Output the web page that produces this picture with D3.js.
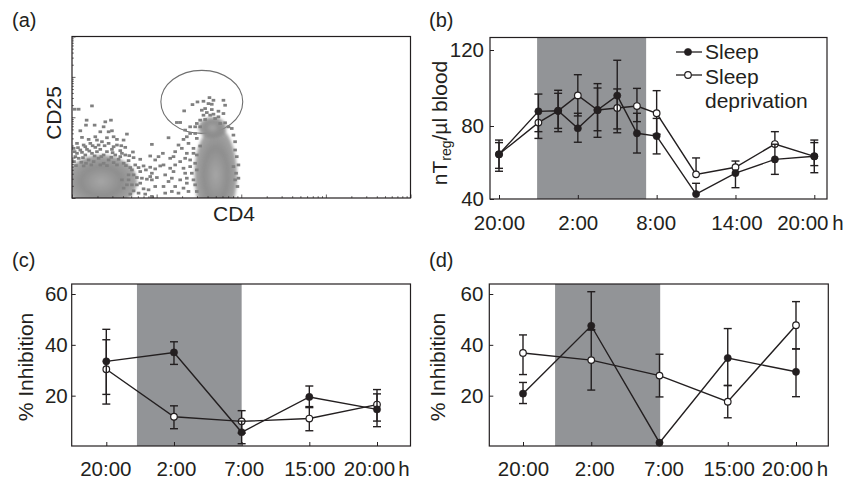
<!DOCTYPE html>
<html>
<head>
<meta charset="utf-8">
<script src="https://d3js.org/d3.v7.min.js"></script>
<style>
  body { margin: 0; background: #fff; }
  text { font-family: "Liberation Sans", Arial, sans-serif; fill: #231f20; }
</style>
</head>
<body>
<svg id="fig" width="845" height="482"></svg>
<script>
// panel (a): flow cytometry, CD4 / CD25 channels
const cloudLeft = [[8,268],[20,268],[60,278],[44,235],[42,220],[68,220],[100,230],[117,235],[95,215],[25,203],[110,200],[120,203],[85,200],[165,193],[70,185],[30,183],[50,177],[75,175],[105,182],[125,185],[135,177],[155,175],[15,165],[35,160],[55,165],[90,170],[110,165],[135,160],[160,153],[240,162],[25,145],[45,147],[70,153],[85,147],[120,147],[145,143],[183,139],[15,135],[40,130],[60,135],[95,130],[130,130],[160,130],[235,127],[260,125],[20,120],[50,115],[80,120],[110,115],[140,117],[170,113],[205,117],[250,115],[215,97],[190,100],[235,93],[265,97],[180,85],[205,80],[240,75],[225,57],[240,55],[185,70],[150,55],[165,40],[195,40],[215,28],[205,45],[230,25],[250,35],[240,5],
  [5,150],[18,152],[40,155],[62,158],[80,160],[98,158],[125,155],[148,158],[8,140],[30,138],[52,142],[75,140],[105,140],[122,137],[150,135],[172,128],[10,125],[33,122],[68,127],[88,125],[118,123],[145,125],[185,122],[6,110],[28,108],[42,105],[65,110],[95,105],[125,107],[155,105],[12,98],[35,97],[58,100],[85,100],[105,98],[135,100],[162,98],[175,92],[200,92],[222,85],[250,88],[170,70],[195,62],[210,60],[235,65],[255,62],[170,55],[180,40],[155,30],[185,22],[200,15],[175,12],[220,12]];
const cloudRight = [[413,303],[395,292],[377,290],[362,282],[337,263],[425,295],[420,283],[455,295],[460,280],[400,270],[390,265],[420,267],[455,255],[395,250],[415,250],[425,253],[385,235],[400,237],[375,225],[370,215],[325,228],[315,228],[440,245],[460,227],[480,210],[290,182],[335,177],[355,195],[320,160],[350,165],[365,150],[385,157],[273,135],[305,125],[295,120],[345,135],[365,135],[275,100],[295,90],[325,110],[355,115],[370,105],[280,70],[305,80],[340,75],[360,75],[290,50],[325,55],[345,45],[365,55],[310,35],[335,30],[275,35],[490,145],[495,125],[493,75],[497,35],[490,55],[485,95],
  [340,205],[355,215],[345,185],[370,195],[375,180],[330,150],[340,120],[310,140],[375,130],[355,95],[335,90],[310,100],[375,85],[345,60],[300,60],[370,40],[350,20],[320,15],[300,20],[280,15],[375,20],[500,60],[500,100],[490,170],[485,190],[440,262],[410,285],[405,258],[430,240],[385,215],[445,225],[470,215]];
// dense populations: cd4, cd25, half width, half height
const populations = [[88,50,108,80],[432,70,64,145],[422,212,42,32]];
const gate = [390,290,123,95];

// panel (b)
const hoursB = [0,3,4.5,6,7.5,9,10.5,12,15,18,21,24];
const sleepB = [64.5,87.7,88,78.7,88.4,96,76,74.5,42.7,54.2,61.7,63.4];
const sleepBHi = [70.9,96.8,97.2,86.7,100,114.6,86.7,84,48.6,null,70,70.9];
const sleepBLo = [55.2,76.9,76.9,71.1,77.4,76.3,65.2,64.7,null,46.2,53.5,54.4];
const deprivB = [64.5,81.8,88,96.1,88.4,89.5,90.5,86.7,53.5,57.4,70.1,63.4];
const deprivBHi = [72.3,null,98.8,107,102.3,99.5,99.8,98.6,62.5,60.8,76.9,72.3];
const deprivBLo = [56.8,73.2,78.7,85.3,73.8,78.4,82.3,75.5,null,null,null,58.3];
const tickHoursB = [0,6,12,18,24];
const tickLabelsB = ["20:00","2:00","8:00","14:00","20:00"];

// panels (c) and (d)
const timesCD = ["20:00","2:00","7:00","15:00","20:00"];
const sleepC = [33.5,37,5.6,19.5,14.6];
const sleepCHi = [46.1,41.2,10,23.8,20.7];
const sleepCLo = [20.5,32.3,1.1,15.3,7.8];
const deprivC = [30.4,11.7,9.9,11,16.5];
const deprivCHi = [42,16,14.1,15.7,22.4];
const deprivCLo = [16.7,7,5.2,6.2,10];
const sleepD = [20.8,47.5,1.5,34.8,29.4];
const sleepDHi = [25.2,60.9,null,46.4,38.4];
const sleepDLo = [16.9,45.8,null,24,19.6];
const deprivD = [36.8,34,27.9,17.6,47.7];
const deprivDHi = [43.9,46,36.3,24,57];
const deprivDLo = [28.3,22.2,19.5,11.3,38.4];

const fs = 20.5;
const svg = d3.select("#fig");
const defs = svg.append("defs");
defs.append("filter").attr("id","soft").append("feGaussianBlur").attr("stdDeviation",0.7);
defs.append("filter").attr("id","softer").attr("x","-30%").attr("y","-30%").attr("width","160%").attr("height","160%")
  .append("feGaussianBlur").attr("stdDeviation",1.8);
const grad = defs.append("radialGradient").attr("id","dens");
grad.append("stop").attr("offset","0%").attr("stop-color","#a6a6a6");
grad.append("stop").attr("offset","55%").attr("stop-color","#8e8e8e");
grad.append("stop").attr("offset","100%").attr("stop-color","#888").attr("stop-opacity",0.75);

function label(txt, x, y, opts) {
  const t = svg.append("text").attr("x",x).attr("y",y).attr("font-size",(opts&&opts.size)||fs).text(txt);
  if (opts && opts.anchor) t.attr("text-anchor",opts.anchor);
  if (opts && opts.rotate) t.attr("transform","rotate(-90 "+x+" "+y+")");
  return t;
}
label("(a)",12,27,{size:20});
label("(b)",429,27,{size:20});
label("(c)",12,267,{size:20});
label("(d)",429,267,{size:20});

// ---- (a)
const ax = d3.scaleLinear().domain([0,1017]).range([72,410.5]);
const ay = d3.scaleLinear().domain([0,487]).range([198,36.5]);
const g = svg.append("g");
g.append("ellipse").attr("cx",ax(gate[0])).attr("cy",ay(gate[1]))
  .attr("rx",ax(gate[2])-ax(0)).attr("ry",ay(0)-ay(gate[3]))
  .attr("fill","none").attr("stroke","#6f6f6f").attr("stroke-width",1.1);
const clip = defs.append("clipPath").attr("id","clipA");
clip.append("rect").attr("x",72).attr("y",36.5).attr("width",338.5).attr("height",161.5);
const inner = g.append("g").attr("clip-path","url(#clipA)");
inner.selectAll("ellipse").data(populations).enter().append("ellipse")
  .attr("cx",d=>ax(d[0])).attr("cy",d=>ay(d[1]))
  .attr("rx",d=>ax(d[2])-ax(0)).attr("ry",d=>ay(0)-ay(d[3]))
  .attr("fill","url(#dens)").attr("filter","url(#softer)");
inner.selectAll("rect").data(cloudLeft.concat(cloudRight)).enter().append("rect")
  .attr("x",d=>ax(d[0])-1.8).attr("y",d=>ay(d[1])-1.3)
  .attr("width",3.6).attr("height",2.8)
  .attr("fill","#808080").attr("filter","url(#soft)");

// log decade ticks on the frame
const lx = d3.scaleLog().domain([1,10000]).range([72,410.5]);
const ly = d3.scaleLog().domain([1,10000]).range([198,36.5]);
function logAxis(axis, tr, horizontal) {
  const a = svg.append("g").attr("transform",tr).call(axis);
  a.select(".domain").remove();
  a.selectAll(".tick text").remove();
  a.selectAll(".tick line").attr("stroke","#231f20").attr("stroke-width",0.7)
    .each(function(d) {
      const major = Math.abs(Math.log10(d)-Math.round(Math.log10(d)))<1e-6;
      if (horizontal) d3.select(this).attr("y2",major?-3.5:-1.8);
      else d3.select(this).attr("x2",major?3.5:1.8);
    });
}
logAxis(d3.axisLeft(ly).tickValues(ly.ticks()).tickSizeInner(-2).tickSizeOuter(0),"translate(72,0)",false);
logAxis(d3.axisBottom(lx).tickValues(lx.ticks()).tickSizeInner(-2).tickSizeOuter(0),"translate(0,198)",true);
svg.append("rect").attr("x",72).attr("y",36.5).attr("width",338.5).attr("height",161.5)
  .attr("fill","none").attr("stroke","#231f20").attr("stroke-width",1.2);
label("CD25",61,113,{anchor:"middle",rotate:true,size:21});
label("CD4",234,220.5,{anchor:"middle",size:21});

// ---- line panels
function linePanel(p) {
  const frame = svg.append("g");
  frame.append("rect").attr("x",p.band[0]).attr("y",p.top)
    .attr("width",p.band[1]-p.band[0]).attr("height",p.bottom-p.top).attr("fill","#929497");

  const yAxis = svg.append("g").attr("transform","translate("+p.left+",0)")
    .call(d3.axisLeft(p.y).tickValues(p.yTicks).tickSizeInner(-4).tickSizeOuter(0).tickPadding(p.yPad));
  const xAxis = svg.append("g").attr("transform","translate(0,"+p.bottom+")")
    .call(d3.axisBottom(p.x).tickValues(p.xTicks).tickFormat((d,i)=>p.xLabels[i]).tickSizeInner(-4).tickSizeOuter(0));
  [yAxis,xAxis].forEach(a=>{
    a.select(".domain").remove();
    a.selectAll(".tick line").attr("stroke","#231f20").attr("stroke-width",1);
    a.selectAll(".tick text").attr("font-size",fs).attr("font-family",null);
  });
  xAxis.selectAll(".tick text").attr("y",p.labelY-p.bottom).attr("dy",0)
    .attr("x",(d,i)=>p.labelDx[i]);

  const line = d3.line().x((d,i)=>p.x(p.xs[i])).y(d=>p.y(d));
  function series(vals,hi,lo,open) {
    const s = svg.append("g");
    s.selectAll("g.err").data(vals).enter().append("g").attr("class","err").each(function(d,i){
      const cx = p.x(p.xs[i]);
      const e = d3.select(this).attr("stroke","#231f20").attr("stroke-width",1.4);
      const top = hi[i]===null ? d : hi[i], bot = lo[i]===null ? d : lo[i];
      e.append("line").attr("x1",cx).attr("x2",cx).attr("y1",p.y(top)).attr("y2",p.y(bot));
      [hi[i],lo[i]].forEach(v=>{
        if (v!==null) e.append("line").attr("x1",cx-4).attr("x2",cx+4).attr("y1",p.y(v)).attr("y2",p.y(v));
      });
    });
    s.append("path").datum(vals).attr("d",line).attr("fill","none").attr("stroke","#231f20").attr("stroke-width",1.4);
    s.selectAll("circle").data(vals).enter().append("circle")
      .attr("cx",(d,i)=>p.x(p.xs[i])).attr("cy",d=>p.y(d))
      .attr("r",open?3.3:3.6)
      .attr("fill",open?"#fff":"#231f20").attr("stroke","#231f20").attr("stroke-width",open?1.2:0.6);
  }
  series(p.deprived,p.deprivedHi,p.deprivedLo,true);
  series(p.sleep,p.sleepHi,p.sleepLo,false);

  svg.append("rect").attr("x",p.left).attr("y",p.top).attr("width",p.right-p.left).attr("height",p.bottom-p.top)
    .attr("fill","none").attr("stroke","#231f20").attr("stroke-width",1.2);
  label("h",p.hX,p.labelY,{anchor:"middle"});
}

const xB = d3.scaleLinear().domain([0,24]).range([499,814.3]);
linePanel({
  left:490, right:827, top:37.5, bottom:199,
  band:[xB(2.9),xB(11.2)],
  x:xB, xs:hoursB, xTicks:tickHoursB, xLabels:tickLabelsB,
  y:d3.scaleLinear().domain([40,80,120]).range([199,126,50]), yTicks:[40,80,120], yPad:6,
  sleep:sleepB, sleepHi:sleepBHi, sleepLo:sleepBLo,
  deprived:deprivB, deprivedHi:deprivBHi, deprivedLo:deprivBLo,
  labelY:230, labelDx:[0,0,-1,1,-12], hX:838
});

const idx = [0,1,2,3,4];
const yCD = d3.scaleLinear().domain([0,60]).range([446.5,294]);
const xC = d3.scaleLinear().domain([0,4]).range([106.3,377]);
linePanel({
  left:71.7, right:410.5, top:284, bottom:446,
  band:[xC(0.453),xC(2)],
  x:xC, xs:idx, xTicks:idx, xLabels:timesCD,
  y:yCD, yTicks:[20,40,60], yPad:4,
  sleep:sleepC, sleepHi:sleepCHi, sleepLo:sleepCLo,
  deprived:deprivC, deprivedHi:deprivCHi, deprivedLo:deprivCLo,
  labelY:476, labelDx:[-1,2,2,0,-8], hX:404
});

const xD = d3.scaleLinear().domain([0,4]).range([523,796]);
linePanel({
  left:489.3, right:828.3, top:284, bottom:446,
  band:[xD(0.47),xD(2.01)],
  x:xD, xs:idx, xTicks:idx, xLabels:timesCD,
  y:yCD, yTicks:[20,40,60], yPad:6,
  sleep:sleepD, sleepHi:sleepDHi, sleepLo:sleepDLo,
  deprived:deprivD, deprivedHi:deprivDHi, deprivedLo:deprivDLo,
  labelY:476, labelDx:[0,3,4,1,-9], hX:822.5
});

// y titles
const yb = label("",447,123,{anchor:"middle",rotate:true,size:21});
yb.append("tspan").text("nT");
yb.append("tspan").text("reg").attr("font-size",14).attr("dy",4);
yb.append("tspan").text("/µl blood").attr("dy",-4);
label("% Inhibition",33,367,{anchor:"middle",rotate:true,size:21});
label("% Inhibition",445,367,{anchor:"middle",rotate:true,size:21});

// legend in (b)
const legend = svg.append("g");
[[52,false],[75,true]].forEach(r=>{
  legend.append("line").attr("x1",676).attr("x2",702).attr("y1",r[0]).attr("y2",r[0])
    .attr("stroke","#231f20").attr("stroke-width",1.3);
  legend.append("circle").attr("cx",688).attr("cy",r[0]).attr("r",r[1]?3.3:3.6)
    .attr("fill",r[1]?"#fff":"#231f20").attr("stroke","#231f20").attr("stroke-width",r[1]?1.2:0.6);
});
label("Sleep",705,58.5,{size:21});
label("Sleep",705,83.5,{size:21});
label("deprivation",705,108,{size:21});
</script>
</body>
</html>
